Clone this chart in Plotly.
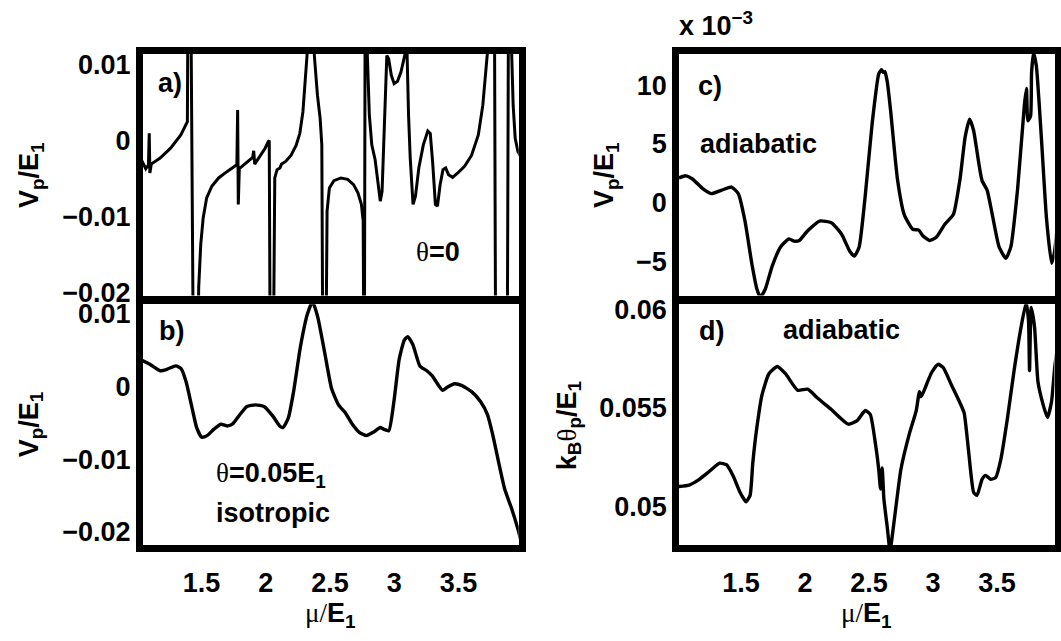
import plotly.graph_objects as go

W, H = 1061, 641
FONT = "Liberation Sans"
SERIF = "Liberation Serif"

# ---- panel a) theta = 0 : V_p/E_1 (units of 1e-3) vs mu/E_1 ----
mu_a = [1.032, 1.067, 1.088, 1.094, 1.099, 1.110, 1.179, 1.260, 1.340, 1.380,
        1.391, 1.401, 1.409, 1.442, 1.463, 1.479, 1.495, 1.514, 1.541, 1.581,
        1.634, 1.701, 1.763, 1.776, 1.782, 1.787, 1.795, 1.827, 1.870, 1.899,
        1.907, 1.915, 1.929, 1.961, 1.996, 2.020, 2.028, 2.038, 2.055, 2.071,
        2.089, 2.111, 2.124, 2.156, 2.197, 2.237, 2.266, 2.290, 2.309, 2.322,
        2.338, 2.365, 2.379, 2.403, 2.424, 2.437, 2.448, 2.464, 2.478, 2.496,
        2.531, 2.585, 2.638, 2.684, 2.718, 2.745, 2.759, 2.767, 2.777, 2.791,
        2.807, 2.826, 2.852, 2.876, 2.892, 2.906, 2.919, 2.933, 2.943, 2.957,
        2.978, 3.000, 3.026, 3.053, 3.075, 3.085, 3.093, 3.101, 3.112, 3.125,
        3.147, 3.166, 3.192, 3.227, 3.262, 3.281, 3.299, 3.321, 3.337, 3.358,
        3.380, 3.401, 3.423, 3.455, 3.495, 3.548, 3.602, 3.655, 3.690, 3.712,
        3.725, 3.738, 3.776, 3.792, 3.878, 3.894, 3.907, 3.915, 3.926, 3.942,
        3.963, 3.985]
vp_a_milli = [-2.55, -3.72, -3.20, 0.92, -4.28, -3.11, -2.33, -1.03, 0.71, 1.92,
              2.44, 40, 40, -40, -40, -19.25, -13.61, -10.14, -7.54, -6.02,
              -4.93, -4.07, -3.41, -3.20, 3.96, -8.40, -3.72, -3.28, -2.76, -2.24,
              -1.37, -3.11, -2.76, -1.98, -1.03, -0.16, -0.03, -40, -40, -4.93,
              -3.85, -3.63, -3.11, -2.76, -1.98, -0.68, 0.92, 3.75, 8.08, 11.12,
              40, 40, 11.12, 5.92, 2.88, -0.59, -40, -40, -9.27, -6.23,
              -5.28, -4.93, -5.11, -5.80, -6.89, -8.40, -10.57, -40, 40, 11.34,
              3.31, -0.59, -2.55, -5.80, -7.97, -6.67, -0.59, 7.65, 11.12, 10.69,
              8.52, 7.43, 7.74, 8.95, 10.69, 11.34, 40, 11.12, 3.31, -2.33,
              -8.40, -7.32, -3.63, -0.59, 1.23, 0.92, -2.76, -8.40, -8.62, -5.80,
              -3.85, -3.63, -4.50, -4.85, -4.28, -3.41, -1.98, 0.71, 4.61, 8.95,
              11.34, 40, 40, -40, -40, 40, 40, 11.12, 4.61, 0.27,
              -1.46, -2.11]

# ---- panel b) theta = 0.05 E_1, isotropic ----
mu_b = [1.032, 1.099, 1.180, 1.234, 1.301, 1.342, 1.382, 1.422, 1.463, 1.503,
        1.544, 1.598, 1.651, 1.705, 1.746, 1.800, 1.854, 1.921, 1.988, 2.056,
        2.109, 2.136, 2.177, 2.217, 2.271, 2.325, 2.365, 2.406, 2.460, 2.513,
        2.567, 2.621, 2.675, 2.729, 2.783, 2.837, 2.891, 2.917, 2.958, 2.998,
        3.039, 3.079, 3.106, 3.146, 3.200, 3.254, 3.295, 3.376, 3.416, 3.470,
        3.524, 3.605, 3.672, 3.726, 3.766, 3.820, 3.860, 3.914, 3.968, 3.987]
vp_b_milli = [3.58, 3.00, 2.11, 2.33, 2.78, 2.42, 0.55, -2.56, -5.67, -7.00,
              -6.78, -5.89, -5.22, -5.45, -5.13, -3.89, -2.78, -2.56, -2.78, -4.11,
              -5.45, -5.67, -4.33, -0.78, 5.44, 9.89, 11.6, 9.44, 4.55, -0.33,
              -2.56, -3.67, -5.22, -6.33, -6.78, -6.33, -5.67, -5.89, -6.11, -2.11,
              3.67, 6.33, 6.78, 5.67, 2.78, 2.11, 1.44, -0.56, -0.11, 0.33,
              0.11, -0.78, -2.11, -3.89, -6.56, -11.00, -14.11, -16.78, -19.89, -21.22]

# ---- panel c) adiabatic V_p/E_1 (x 10^-3) ----
mu_c = [1.015, 1.069, 1.121, 1.201, 1.267, 1.346, 1.426, 1.479, 1.531, 1.584,
        1.624, 1.651, 1.690, 1.743, 1.809, 1.875, 1.915, 1.955, 2.021, 2.114,
        2.206, 2.285, 2.352, 2.386, 2.423, 2.471, 2.524, 2.576, 2.598, 2.611,
        2.624, 2.643, 2.669, 2.722, 2.775, 2.841, 2.889, 2.920, 2.973, 3.026,
        3.092, 3.159, 3.211, 3.251, 3.286, 3.317, 3.357, 3.383, 3.423, 3.463,
        3.516, 3.569, 3.608, 3.661, 3.714, 3.730, 3.741, 3.762, 3.770, 3.785,
        3.807, 3.846, 3.886, 3.926, 3.947, 3.992]
vp_c_milli = [2.10, 2.28, 2.01, 1.18, 0.76, 1.04, 1.32, 0.76, -1.58, -5.18,
              -7.38, -8.08, -7.38, -5.45, -3.79, -3.10, -3.30, -3.24, -2.41, -1.58,
              -1.72, -2.69, -4.21, -4.57, -3.79, 0.63, 6.70, 10.98, 11.34, 11.12,
              11.18, 10.29, 7.81, 2.01, -1.03, -2.28, -2.36, -2.83, -3.24, -2.97,
              -1.86, -1.03, 2.01, 5.60, 7.12, 6.15, 3.39, 1.87, 1.04, -1.03,
              -3.79, -4.76, -3.79, 1.18, 8.36, 9.74, 6.98, 7.39, 11.12, 12.78,
              11.67, 5.60, -1.31, -5.18, -4.35, 0.07]

# ---- panel d) adiabatic k_B theta_p/E_1 (units of 1e-3) ----
mu_d = [1.015, 1.095, 1.174, 1.254, 1.333, 1.386, 1.439, 1.492, 1.539, 1.571,
        1.592, 1.624, 1.664, 1.717, 1.783, 1.849, 1.942, 2.021, 2.100, 2.206,
        2.338, 2.405, 2.471, 2.510, 2.550, 2.576, 2.590, 2.603, 2.616, 2.643,
        2.664, 2.696, 2.749, 2.815, 2.868, 2.894, 2.907, 2.947, 2.987, 3.039,
        3.079, 3.145, 3.211, 3.243, 3.277, 3.317, 3.344, 3.383, 3.410, 3.450,
        3.489, 3.529, 3.582, 3.635, 3.688, 3.727, 3.746, 3.754, 3.767, 3.793,
        3.820, 3.860, 3.894, 3.926, 3.952, 3.984]
kth_d_milli = [51.03, 51.10, 51.39, 51.80, 52.21, 52.13, 51.56, 50.74, 50.25, 50.58,
               52.21, 54.02, 55.66, 56.72, 57.10, 56.72, 55.90, 55.95, 55.49, 54.92,
               54.18, 54.35, 54.87, 54.67, 53.20, 51.89, 50.90, 51.97, 50.41, 48.94,
               47.79, 49.27, 51.89, 53.69, 54.84, 55.82, 55.57, 56.15, 56.77, 57.21,
               57.05, 56.15, 55.25, 54.75, 52.87, 50.74, 50.58, 51.39, 51.59, 51.39,
               51.48, 52.38, 54.51, 56.97, 59.10, 60.33, 59.43, 56.89, 60.08, 59.10,
               56.31, 55.17, 54.51, 55.33, 57.13, 58.61]

# tick labels
x_ticks = [1.5, 2, 2.5, 3, 3.5]
x_ticktext = ["1.5", "2", "2.5", "3", "3.5"]
ab_ticks = [0.01, 0, -0.01, -0.02]
ab_ticktext = ["0.01", "0", "\u22120.01", "\u22120.02"]
c_ticks = [10, 5, 0, -5]
c_ticktext = ["10", "5", "0", "\u22125"]
d_ticks = [0.06, 0.055, 0.05]
d_ticktext = ["0.06", "0.055", "0.05"]

MILLI = 1e-3
vp_a = [v * MILLI for v in vp_a_milli]
vp_b = [v * MILLI for v in vp_b_milli]
kth_d = [v * MILLI for v in kth_d_milli]


def fx(p):
    return p / W


def fy(p):
    return 1 - p / H


# subplot boxes (inner edges, pixels)
LEFT_X = (142.75, 518.75)
RIGHT_X = (679.0, 1054.5)
TOP_Y = (46.5, 296.7)
BOT_Y = (305.7, 555.0)

line = dict(color="black", width=3.4)

fig = go.Figure()
fig.add_trace(go.Scatter(x=mu_a, y=vp_a, mode="lines",
                         line=dict(color="black", width=3),
                         xaxis="x", yaxis="y"))
fig.add_trace(go.Scatter(x=mu_b, y=vp_b, mode="lines",
                         line=dict(line, shape="spline", smoothing=0.5),
                         xaxis="x2", yaxis="y2"))
fig.add_trace(go.Scatter(x=mu_c, y=vp_c_milli, mode="lines",
                         line=dict(line, shape="spline", smoothing=0.5),
                         xaxis="x3", yaxis="y3"))
fig.add_trace(go.Scatter(x=mu_d, y=kth_d, mode="lines",
                         line=dict(line, shape="spline", smoothing=0.5),
                         xaxis="x4", yaxis="y4"))

tickfont = dict(family=FONT, size=27, color="black", weight="bold")
frame = dict(showline=True, linewidth=6.5, linecolor="black", mirror=True,
             ticks="", showgrid=False, zeroline=False, tickfont=tickfont,
             fixedrange=True)
# bottom axes: invisible outside ticks push the labels a little lower
xbottom = dict(frame, ticks="outside", ticklen=8, tickcolor="rgba(0,0,0,0)",
               tickvals=x_ticks, ticktext=x_ticktext)


def xdom(b):
    return [fx(b[0]), fx(b[1])]


def ydom(b):
    return [fy(b[1]), fy(b[0])]


fig.update_layout(
    width=W, height=H, margin=dict(l=0, r=0, t=0, b=0),
    paper_bgcolor="white", plot_bgcolor="white", showlegend=False,
    xaxis=dict(frame, domain=xdom(LEFT_X), range=[1.0436, 3.9696], anchor="y",
               tickvals=x_ticks, showticklabels=False),
    yaxis=dict(frame, domain=ydom(TOP_Y), range=[-0.02034, 0.01133], anchor="x",
               tickvals=ab_ticks, ticktext=ab_ticktext),
    xaxis2=dict(xbottom, domain=xdom(LEFT_X), range=[1.0436, 3.9696], anchor="y2"),
    yaxis2=dict(frame, domain=ydom(BOT_Y), range=[-0.02177, 0.01124], anchor="x2",
                tickvals=ab_ticks, ticktext=ab_ticktext),
    xaxis3=dict(frame, domain=xdom(RIGHT_X), range=[1.0156, 3.949], anchor="y3",
                tickvals=x_ticks, showticklabels=False),
    yaxis3=dict(frame, domain=ydom(TOP_Y), range=[-7.94, 12.69], anchor="x3",
                tickvals=c_ticks, ticktext=c_ticktext),
    xaxis4=dict(xbottom, domain=xdom(RIGHT_X), range=[1.0156, 3.949], anchor="y4"),
    yaxis4=dict(frame, domain=ydom(BOT_Y), range=[0.04807, 0.06025], anchor="x4",
                tickvals=d_ticks, ticktext=d_ticktext),
)

normal = "<span style='font-family:%s;font-weight:normal'>%s</span>"
V_TITLE = "V<sub>p</sub>/E<sub>1</sub>"
MU_TITLE = normal % (SERIF, "\u03bc/") + "E<sub>1</sub>"
K_TITLE = "k<sub>B</sub>" + normal % (SERIF, "\u03b8") + "<sub>p</sub>/E<sub>1</sub>"


def label(text, x, y, xanchor="center", yanchor="middle", angle=0, size=27):
    fig.add_annotation(text=text, x=fx(x), y=fy(y), xref="paper", yref="paper",
                       xanchor=xanchor, yanchor=yanchor, textangle=angle,
                       showarrow=False,
                       font=dict(family=FONT, size=size, color="black",
                                 weight="bold"))


# axis titles
label(V_TITLE, 31, 172, angle=-90)
label(V_TITLE, 31, 430, angle=-90)
label(V_TITLE, 606, 172, angle=-90)
label(K_TITLE, 569, 432, angle=-90)
label(MU_TITLE, 330.75, 628)
label(MU_TITLE, 866.75, 628)

# panel tags and notes
label("a)", 170, 77)
label(normal % (SERIF, "\u03b8") + "=0", 438, 252)
label("b)", 171, 333)
label(normal % (SERIF, "\u03b8") + "=0.05E<sub>1</sub>", 214, 483, xanchor="left")
label("isotropic", 214, 522, xanchor="left")
label("c)", 710, 80)
label("adiabatic", 697.6, 140, xanchor="left")
label("d)", 711, 333)
label("adiabatic", 780.6, 332, xanchor="left")
label("x 10<sup>\u22123</sup>", 677, 16, xanchor="left")

fig.write_html("out.html")
